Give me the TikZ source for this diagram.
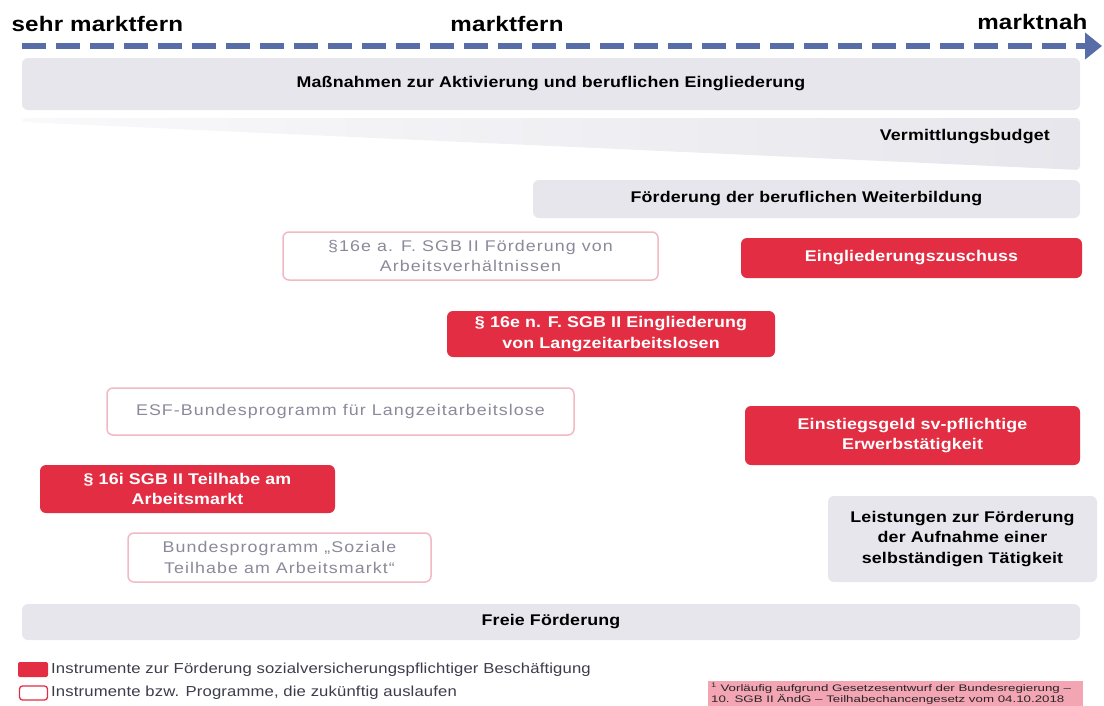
\documentclass[tikz,border=0pt]{standalone}
\usepackage{fontspec}
\setmainfont{Liberation Sans}[FakeStretch=1.15,LetterSpace=1]
\newfontfamily\grauschrift{Liberation Sans}[FakeStretch=1.15,LetterSpace=7]
\newfontfamily\fussschrift{Liberation Sans}[FakeStretch=1.4]
\usetikzlibrary{arrows.meta}

\definecolor{pfeilblau}{RGB}{88,108,168}
\definecolor{kastengrau}{RGB}{231,230,236}
\definecolor{instrot}{RGB}{226,45,66}
\definecolor{randrosa}{RGB}{240,185,195}
\definecolor{textgrau}{RGB}{138,138,154}
\definecolor{fussrosa}{RGB}{243,165,180}
\definecolor{legendtext}{RGB}{60,60,75}

\tikzset{
  kopftext/.style={font=\fontsize{21}{24}\selectfont\bfseries},
  graukasten/.style={fill=kastengrau, rounded corners=6pt, inner sep=0pt, align=center,
    font=\fontsize{15.5}{20.5}\selectfont\bfseries},
  rotkasten/.style={fill=instrot, text=white, rounded corners=6pt, inner sep=0pt, align=center,
    font=\fontsize{15.5}{20.5}\selectfont\bfseries},
  auslaufkasten/.style={draw=randrosa, line width=1.5pt, fill=white, text=textgrau, rounded corners=6pt,
    inner sep=0pt, align=center, font=\grauschrift\fontsize{15.5}{20.5}\selectfont},
  legendtext/.style={text=legendtext, anchor=west, inner sep=0pt, font=\fontsize{14.5}{16}\selectfont},
}

\begin{document}
\begin{tikzpicture}[x=1pt,y=-1pt]

     \useasboundingbox (0,0) rectangle (1104,705);
     \clip (0,0) rectangle (1104,705);

     \node[kopftext, anchor=west] (sehrfern) at (8,24){sehr marktfern};
     \node[kopftext] (fern) at (507,24){marktfern};
     \node[kopftext, anchor=east] (nah) at (1091,22){marktnah};

     \coordinate (pfeilstart) at (22,46);
     \coordinate (pfeilende) at (1102,46);
     \draw [draw=pfeilblau, line width=6pt, dash pattern=on 24pt off 10pt, -{Triangle[length=17pt,width=26pt]}] (pfeilstart) to (pfeilende);

     % Balken ueber die ganze Breite
     \node[graukasten, minimum width=1058pt, minimum height=52pt] (aktivierung) at (551,84){Maßnahmen zur Aktivierung und beruflichen Eingliederung};

     \shade[left color=kastengrau!25, right color=kastengrau, rounded corners=4pt] (22,118) -- (1080,118) -- (1080,170) -- (22,122) -- cycle;
     \node[font=\fontsize{15.5}{20.5}\selectfont\bfseries, anchor=east, inner sep=0pt] (budget) at (1050,137){Vermittlungsbudget};

     \node[graukasten, minimum width=547pt, minimum height=38pt] (weiterbildung) at (806.5,199){Förderung der beruflichen Weiterbildung};

     \node[auslaufkasten, minimum width=375pt, minimum height=48pt] (altfuenf) at (470.5,256){§16e a. F. SGB II Förderung von\\Arbeitsverhältnissen};
     \node[rotkasten, minimum width=341pt, minimum height=40pt] (zuschuss) at (911.5,258){Eingliederungszuschuss};

     \node[rotkasten, minimum width=328pt, minimum height=46pt] (neufuenf) at (611,334){§ 16e n. F. SGB II Eingliederung\\von Langzeitarbeitslosen};

     \node[auslaufkasten, minimum width=467pt, minimum height=47pt] (esf) at (340.5,411.5){ESF-Bundesprogramm für Langzeitarbeitslose};
     \node[rotkasten, minimum width=335pt, minimum height=59pt] (einstieg) at (912.5,435.5){Einstiegsgeld sv-pflichtige\\Erwerbstätigkeit};

     \node[rotkasten, minimum width=295pt, minimum height=48pt] (teilhabe) at (187.5,489){§ 16i SGB II Teilhabe am\\Arbeitsmarkt};

     \node[graukasten, minimum width=269pt, minimum height=86pt] (selbst) at (962.5,539){Leistungen zur Förderung\\der Aufnahme einer\\selbständigen Tätigkeit};
     \node[auslaufkasten, minimum width=303pt, minimum height=49pt] (bundesprog) at (279.5,557.5){Bundesprogramm „Soziale\\Teilhabe am Arbeitsmarkt“};

     \node[graukasten, minimum width=1058pt, minimum height=36pt] (frei) at (551,622){Freie Förderung};

     % Legende
     \node[fill=instrot, rounded corners=2pt, minimum width=30pt, minimum height=15pt, inner sep=0pt] (legrot) at (33,669.5){};
     \node[legendtext] (legrottext) at (51,670){Instrumente zur Förderung sozialversicherungspflichtiger Beschäftigung};
     \node[draw=instrot, line width=1.3pt, rounded corners=3pt, minimum width=28pt, minimum height=14pt, inner sep=0pt] (legaus) at (33.5,693){};
     \node[legendtext] (legaustext) at (51,693){Instrumente bzw. Programme, die zukünftig auslaufen};

     \node[fill=fussrosa, anchor=north west, minimum width=375pt, minimum height=30pt, inner sep=0pt] (fuss) at (708,681){};
     \node[anchor=north west, align=left, inner sep=0pt, font=\fussschrift\fontsize{9.5}{10.5}\selectfont, text=black!85] (fusstext) at (711,683){\textsuperscript{1} Vorläufig aufgrund Gesetzesentwurf der Bundesregierung –\\10. SGB II ÄndG – Teilhabechancengesetz vom 04.10.2018};

\end{tikzpicture}
\end{document}
